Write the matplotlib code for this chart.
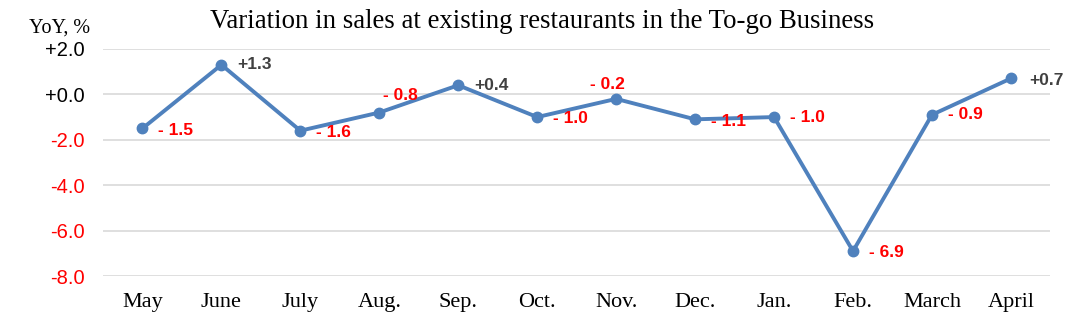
import matplotlib.pyplot as plt

# variacao anual (%) das vendas nas lojas existentes
meses = ["May", "June", "July", "Aug.", "Sep.", "Oct.", "Nov.", "Dec.",
         "Jan.", "Feb.", "March", "April"]
yoy = [-1.5, 1.3, -1.6, -0.8, 0.4, -1.0, -0.2, -1.1, -1.0, -6.9, -0.9, 0.7]
yticks = [2.0, 0.0, -2.0, -4.0, -6.0, -8.0]
# posicao do rotulo em relacao ao ponto (pixels)
desloc = [(16, -2), (16, 0), (16, -2), (4, 17), (16, 0), (16, -1),
          (-26, 14), (16, -2), (16, 0), (16, -1), (16, 0), (18, -2)]

AZUL = "#4f81bd"
VERMELHO = "#ff0000"
CINZA = "#404040"

fig = plt.figure(figsize=(10.84, 3.26), dpi=100)
ax = fig.add_axes([0.095, 0.153, 0.874, 0.697])

x = list(range(len(meses)))
ax.plot(x, yoy, color=AZUL, lw=2.8, marker="o", ms=7.5, zorder=3)

for xi, v, (dx, dy) in zip(x, yoy, desloc):
    if v >= 0:
        txt, cor = f"+{v:.1f}", CINZA
    else:
        txt, cor = f"- {abs(v):.1f}", VERMELHO
    ax.annotate(txt, (xi, v), xytext=(dx, dy), textcoords="offset pixels",
                ha="left", va="center", fontsize=12.5, fontweight="bold",
                color=cor, family="Liberation Sans", zorder=4)

ax.set_xlim(-0.5, len(meses) - 0.5)
ax.set_ylim(-8, 2)
ax.set_yticks(yticks)
ax.set_yticklabels([("+" if t >= 0 else "") + f"{t:.1f}" for t in yticks],
                   family="Liberation Sans", fontsize=14.5)
for lbl, t in zip(ax.get_yticklabels(), yticks):
    lbl.set_color("black" if t >= 0 else VERMELHO)
ax.set_xticks(x)
ax.set_xticklabels(meses, family="Liberation Serif", fontsize=16)
ax.tick_params(length=0, axis="y", pad=13)
ax.tick_params(length=0, axis="x", pad=12)
ax.grid(axis="y", color="#d9d9d9", lw=1.2)
ax.set_axisbelow(True)
for s in ax.spines.values():
    s.set_visible(False)

fig.text(0.5, 0.935, "Variation in sales at existing restaurants in the To-go Business",
         ha="center", va="center", family="Liberation Serif", fontsize=19.3)
fig.text(0.027, 0.915, "YoY, %", ha="left", va="center",
         family="Liberation Serif", fontsize=14.5)

plt.savefig("out.png", dpi=100)
